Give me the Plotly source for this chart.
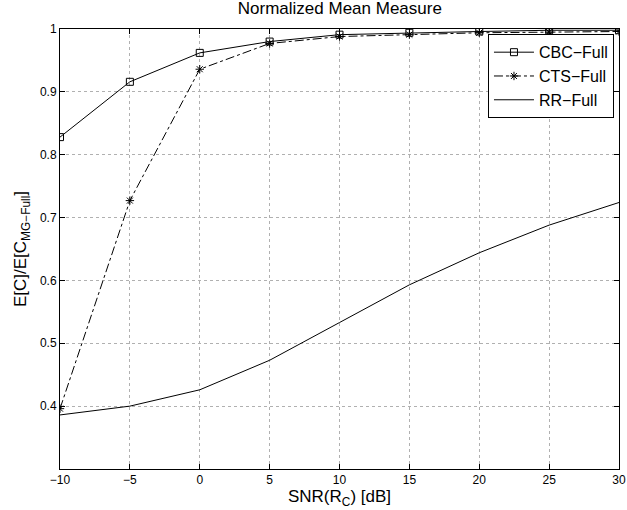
import plotly.graph_objects as go

snr = [-10, -5, 0, 5, 10, 15, 20, 25, 30]
cbc_full = [0.828, 0.916, 0.962, 0.980, 0.991, 0.994, 0.996, 0.998, 0.998]
cts_full = [0.396, 0.727, 0.936, 0.977, 0.988, 0.991, 0.994, 0.995, 0.996]
rr_full = [0.386, 0.400, 0.426, 0.473, 0.533, 0.593, 0.644, 0.688, 0.724]

x_ticks = [-10, -5, 0, 5, 10, 15, 20, 25, 30]
y_ticks = [0.4, 0.5, 0.6, 0.7, 0.8, 0.9, 1.0]
y_ticklabels = ["0.4", "0.5", "0.6", "0.7", "0.8", "0.9", "1"]

fig = go.Figure()
fig.add_trace(go.Scatter(x=snr, y=cbc_full, name="CBC\u2212Full", mode="lines+markers",
                         line=dict(color="black", width=1),
                         marker=dict(symbol="square-open", size=7, color="black", line=dict(width=1))))
fig.add_trace(go.Scatter(x=snr, y=cts_full, name="CTS\u2212Full", mode="lines+markers",
                         line=dict(color="black", width=1, dash="dashdot"),
                         marker=dict(symbol="asterisk-open", size=7, color="black", line=dict(width=1, color="black"))))
fig.add_trace(go.Scatter(x=snr, y=rr_full, name="RR\u2212Full", mode="lines",
                         line=dict(color="black", width=1)))

axis_common = dict(showline=True, linecolor="black", linewidth=1, mirror="ticks",
                   ticks="inside", ticklen=5, tickcolor="black",
                   showgrid=True, gridcolor="#b0b0b0", griddash="dot", gridwidth=1,
                   zeroline=False, tickfont=dict(size=12, color="black"), automargin=False)

fig.update_layout(
    width=627, height=510,
    margin=dict(l=60, r=8, t=29, b=41),
    paper_bgcolor="white", plot_bgcolor="white",
    font=dict(family="Liberation Sans, Arial, sans-serif", color="black", size=12),
    title=dict(text="Normalized Mean Measure", x=0.542, xanchor="center",
               yref="container", y=0.996, yanchor="top",
               font=dict(size=17)),
    xaxis=dict(range=[-10, 30], tickvals=x_ticks,
               title=dict(text="SNR(R<sub>C</sub>) [dB]", font=dict(size=17), standoff=0),
               **axis_common),
    yaxis=dict(range=[0.3, 1.0], tickvals=y_ticks, ticktext=y_ticklabels,
               title=dict(text="E[C]/E[C<sub>MG\u2212Full</sub>]", font=dict(size=17), standoff=8),
               **axis_common),
    legend=dict(x=0.991, y=0.988, xanchor="right", yanchor="top",
                bgcolor="white", bordercolor="black", borderwidth=1,
                font=dict(size=16), tracegroupgap=0, itemwidth=40),
    showlegend=True,
)

fig.write_html("out.html", config={"displayModeBar": False},
               post_script="document.body.style.margin='0';")
